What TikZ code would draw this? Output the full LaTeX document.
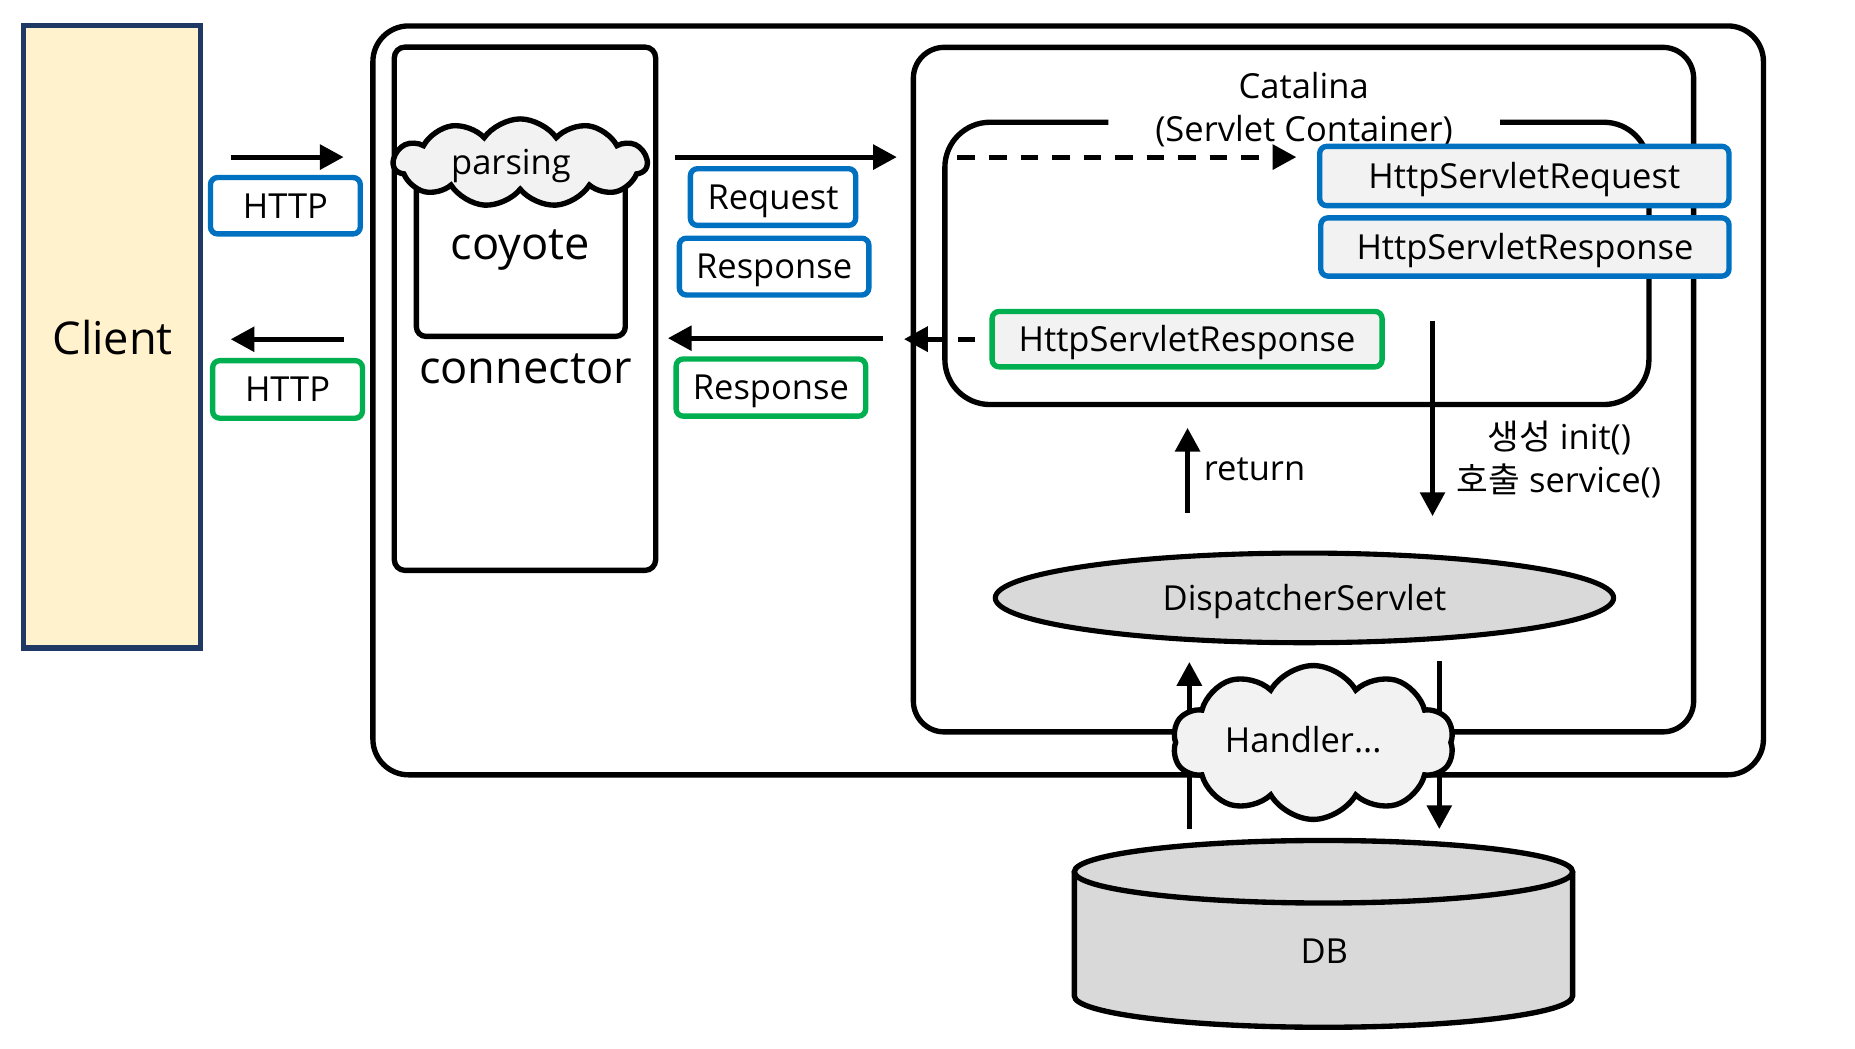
\documentclass[tikz,border=0pt]{standalone}
\usepackage{fontspec}
\setmainfont{Open Sans}
\newfontfamily\krfont{Noto Sans CJK KR}
\usetikzlibrary{shapes.symbols,shapes.geometric,arrows.meta}
\definecolor{cream}{HTML}{FFF2CC}
\definecolor{navy}{HTML}{1F3864}
\definecolor{bblue}{HTML}{0070C0}
\definecolor{bgreen}{HTML}{00B050}
\definecolor{lgray}{HTML}{F2F2F2}
\definecolor{mgray}{HTML}{D9D9D9}
\newcommand\fsBig{\fontsize{38}{44}\selectfont}
\newcommand\fsNorm{\fontsize{29}{34}\selectfont}
\begin{document}
\begin{tikzpicture}[x=1pt,y=-1pt,
  frame/.style={draw, line width=4.5pt},
  lbl/.style={draw, line width=4.5pt, rounded corners=6pt, fill=white, inner sep=0pt,
              font=\fsNorm, text height=20.7pt, text depth=0pt},
  bluelbl/.style={lbl, draw=bblue},
  greenlbl/.style={lbl, draw=bgreen},
  graylbl/.style={fill=lgray},
  txt/.style={inner sep=0pt, font=\fsNorm, anchor=base},
  bigtxt/.style={inner sep=0pt, font=\fsBig, anchor=base},
  tipT/.style={-{Triangle[length=20pt,width=20.5pt]}},
  arrowline/.style={line width=4.2pt, tipT},
  dasharrow/.style={line width=4.2pt, dash pattern=on 15pt off 11.5pt, tipT},
  cloudnode/.style={cloud, draw, fill=lgray, line width=4.5pt, inner sep=0pt},
]
\path[use as bounding box] (0,0) rectangle (1560,881.4);

% Client
\node[draw=navy, fill=cream, line width=4.5pt, minimum width=148.6pt, minimum height=523.4pt, inner sep=0pt] (client) at (94.2,283.3) {};
\node[bigtxt] (clienttxt) at (94.8,298) {Client};

% outer Tomcat box
\node[frame, rounded corners=30pt, minimum width=1169.4pt, minimum height=629.8pt] (outer) at (898.3,336.7) {};

% connector
\node[frame, rounded corners=9pt, minimum width=219.8pt, minimum height=440.1pt] (connector) at (441.5,259.65) {};
\node[bigtxt] (conntxt) at (442,322.9) {connector};
\node[frame, rounded corners=8pt, minimum width=175.7pt, minimum height=143pt] (coyote) at (438,211.4) {};
\node[bigtxt] (coyotetxt) at (437.7,218.3) {coyote};
\node[cloudnode, cloud puffs=11, cloud puff arc=110, minimum width=213pt, minimum height=74pt] (parsing) at (437.5,137) {};
\node[txt] (parsingtxt) at (429.7,146.6) {parsing};

% Catalina
\node[frame, rounded corners=26pt, minimum width=656.2pt, minimum height=575.7pt] (catalina) at (1096.2,327.65) {};
\node[txt] (catatxt) at (1096.4,83.1) {Catalina};
\node[txt] (sctxt) at (1096.7,119) {(Servlet Container)};
\coordinate (scA) at (932,102.8);
\coordinate (scB) at (1261.5,102.8);
\draw[line width=4.5pt, rounded corners=38pt] (scA) -- (794.6,102.8) -- (794.6,340.2) -- (1386.7,340.2) -- (1386.7,102.8) -- (scB);

% arrows client <-> connector
\coordinate (h1s) at (194,132.1); \coordinate (h1e) at (289,132.1);
\draw[arrowline] (h1s) -- (h1e);
\node[bluelbl, minimum width=126pt, minimum height=47.4pt] (http1) at (240,173) {HTTP};
\coordinate (h2s) at (289,285.3); \coordinate (h2e) at (194,285.3);
\draw[arrowline] (h2s) -- (h2e);
\node[greenlbl, minimum width=126pt, minimum height=48.4pt] (http2) at (241.8,327.5) {HTTP};

% arrows connector <-> catalina
\coordinate (r1s) at (568,132.1); \coordinate (r1e) at (754.2,132.1);
\draw[arrowline] (r1s) -- (r1e);
\node[bluelbl, minimum width=139pt, minimum height=47.7pt] (req) at (650.1,165.7) {Request};
\node[bluelbl, minimum width=159.4pt, minimum height=47.8pt] (resp1) at (651,224.2) {Response};
\coordinate (r2s) at (742.8,284.4); \coordinate (r2e) at (561.7,284.4);
\draw[arrowline] (r2s) -- (r2e);
\node[greenlbl, minimum width=159.4pt, minimum height=48.1pt] (resp2) at (648.3,325.9) {Response};

% servlet objects
\coordinate (d1s) at (805.2,132.1); \coordinate (d1e) at (1090.2,132.1);
\draw[dasharrow] (d1s) -- (d1e);
\node[bluelbl, graylbl, minimum width=344.2pt, minimum height=49.9pt] (hreq) at (1281.9,148) {HttpServletRequest};
\node[bluelbl, graylbl, minimum width=343.3pt, minimum height=49pt] (hresp) at (1282.4,207.7) {HttpServletResponse};
\node[greenlbl, graylbl, minimum width=328pt, minimum height=46.6pt] (hresp2) at (998.3,285.2) {HttpServletResponse};
\coordinate (d2e) at (760.2,285.2);
\draw[dasharrow, dash pattern=on 14pt off 12pt, dash phase=14pt] (hresp2.west) -- (d2e);

% init / return
\coordinate (i1s) at (1204.7,269.7); \coordinate (i1e) at (1204.7,434);
\draw[arrowline, line width=3.9pt] (i1s) -- (i1e);
\node[txt] (inittxt) at (1311.3,378.4) {{\krfont 생성} init()};
\node[txt] (servtxt) at (1311,414.5) {{\krfont 호출} service()};
\coordinate (rets) at (998.7,431); \coordinate (rete) at (998.7,359.8);
\draw[arrowline] (rets) -- (rete);
\node[txt, anchor=base west] (rettxt) at (1012.2,404) {return};

% DispatcherServlet
\node[ellipse, draw, fill=mgray, line width=4.3pt, minimum width=520pt, minimum height=75.4pt, inner sep=0pt,
      font=\fsNorm, text height=20.7pt, text depth=0pt] (disp) at (1097,502.8) {DispatcherServlet};

% DB
\coordinate (dbtop) at (1113,733.1);
\draw[line width=4.5pt, fill=mgray] (903.5,733.1) -- (903.5,837.6) arc[start angle=180, end angle=360, x radius=209.5, y radius=-26.3] -- (1322.5,733.1);
\draw[line width=4.5pt, fill=mgray] (dbtop) ellipse[x radius=209.5, y radius=26.3];
\node[txt] (db) at (1113.7,809.9) {DB};

% handler arrows
\coordinate (u1s) at (1000.2,697.2); \coordinate (u1e) at (1000.2,556.7);
\draw[arrowline] (u1s) -- (u1e);
\coordinate (w1s) at (1210.4,556); \coordinate (w1e) at (1210.4,697.2);
\draw[arrowline] (w1s) -- (w1e);
\node[cloudnode, cloud puffs=10, cloud puff arc=120, minimum width=236.6pt, minimum height=129.4pt] (handler) at (1104.4,624.4) {};
\node[txt] (handlertxt) at (1096,632.7) {Handler...};

\end{tikzpicture}
\end{document}
